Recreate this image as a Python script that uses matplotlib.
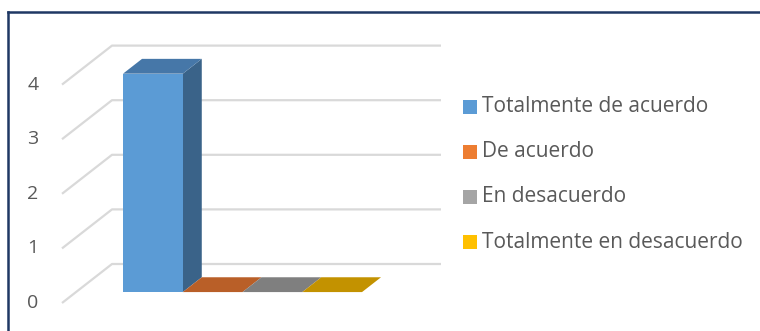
import matplotlib
matplotlib.use("Agg")
import matplotlib.pyplot as plt
from matplotlib.patches import Polygon, Rectangle
from matplotlib.lines import Line2D

plt.rcParams['font.family'] = ['Open Sans', 'DejaVu Sans']

# data
categories = ['Totalmente de acuerdo', 'De acuerdo', 'En desacuerdo', 'Totalmente en desacuerdo']
values = [4, 0, 0, 0]
yticks = [0, 1, 2, 3, 4]

# colours: legend/front, top face, side face
front_cols = ['#5B9BD5', '#ED7D31', '#A5A5A5', '#FFC000']
top_cols = ['#4677A8', '#B95F28', '#7F7F7F', '#C39200']
side_cols = ['#3A6389', '#A0521F', '#6E6E6E', '#A87E00']
grid_col = '#D9D9D9'
text_col = '#595959'

W, H = 760, 331
fig = plt.figure(figsize=(W / 100, H / 100), dpi=100)
ax = fig.add_axes([0, 0, 1, 1])

# front-plane scale: pixels per category / per value unit
sx, sy = 59.75, 54.6
x0, y0 = 138.9, 303.0
ax.set_xlim(-x0 / sx, (W - x0) / sx)
ax.set_ylim(-(H - y0) / sy, y0 / sy)
ax.axis('off')

# depth direction (oblique projection)
DX, DY = 50 / sx, 39 / sy
def proj(x, v, d):
    return (x + d * DX, v + d * DY)

x_wall = (62 - x0) / sx
x_right = (391 - x0) / sx

# side wall and back wall gridlines
for t in yticks:
    xs, ys = zip(proj(x_wall, t, 0), proj(x_wall, t, 1), proj(x_right, t, 1))
    ax.plot(xs, ys, color=grid_col, lw=1.6, solid_capstyle='butt', zorder=1)
    ax.text(-1.772, t, str(t), ha='center', va='center', fontsize=14,
            color=text_col)

# 3D columns
d0, d1 = 0.28, 0.66
for i, v in enumerate(values):
    l, r = i - 0.5, i + 0.5
    side = [proj(r, 0, d0), proj(r, 0, d1), proj(r, v, d1), proj(r, v, d0)]
    front = [proj(l, 0, d0), proj(r, 0, d0), proj(r, v, d0), proj(l, v, d0)]
    top = [proj(l, v, d0), proj(r, v, d0), proj(r, v, d1), proj(l, v, d1)]
    ax.add_patch(Polygon(side, closed=True, fc=side_cols[i], ec='none', zorder=2 + i))
    ax.add_patch(Polygon(front, closed=True, fc=front_cols[i], ec='none', zorder=2 + i))
    ax.add_patch(Polygon(top, closed=True, fc=top_cols[i], ec='none', zorder=2 + i))

# legend
for k, (lab, c) in enumerate(zip(categories, front_cols)):
    yc = 1 - (107 + 45 * k) / H
    ax.add_patch(Rectangle((463 / W, yc - 7 / H), 14 / W, 14 / H,
                           transform=ax.transAxes, fc=c, ec='none'))
    ax.text(482 / W, yc, lab, transform=ax.transAxes, ha='left', va='center',
            fontsize=15, color=text_col)

# chart border
fig.add_artist(Line2D([8 / W, 8 / W], [0, 1 - 11.5 / H], color='#1F3864', lw=1.8))
fig.add_artist(Line2D([8 / W, 1], [1 - 11.5 / H, 1 - 11.5 / H], color='#1F3864', lw=1.8))

fig.savefig('out.png', dpi=100)
